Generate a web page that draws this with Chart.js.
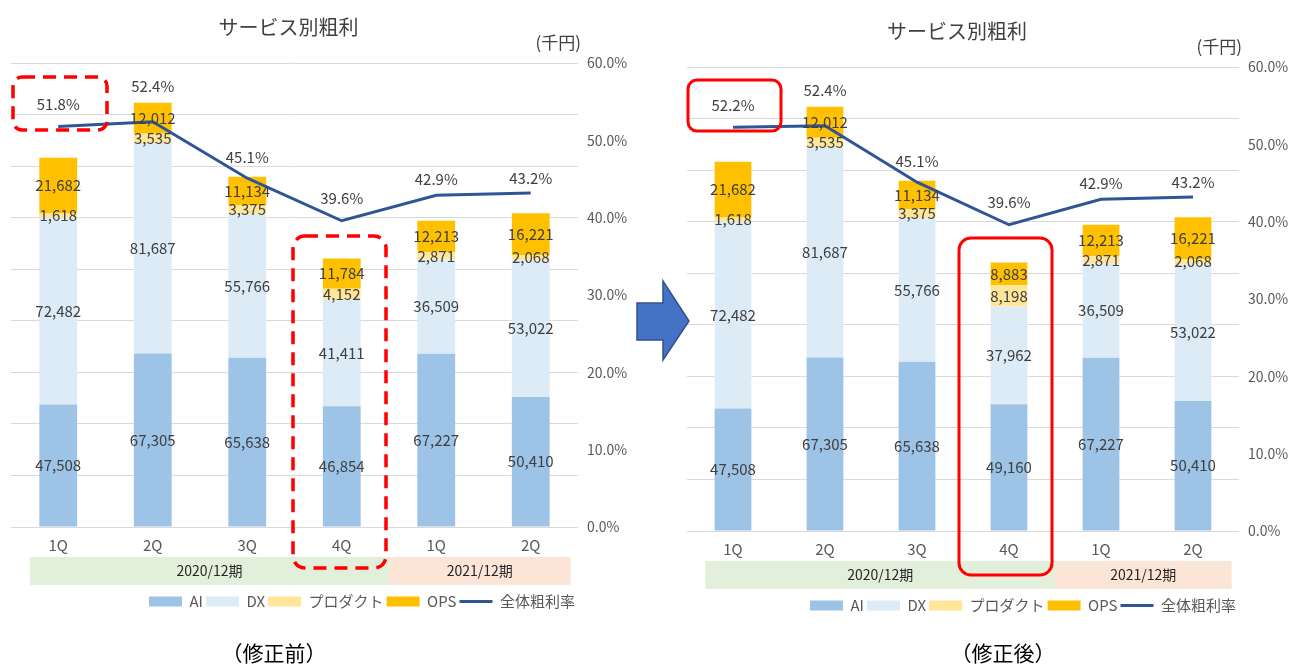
<!DOCTYPE html>
<html lang="ja">
<head>
<meta charset="UTF-8">
<title>サービス別粗利</title>
<style>
  body { margin: 0; background: #fff; width: 1291px; height: 664px; position: relative; overflow: hidden; font-family: "Noto Sans CJK JP", sans-serif; }
  .wrap { position: absolute; }
  #wrapBefore { left: 0; top: 0; }
  #wrapAfter { left: 650px; top: 3px; }
  .caption { position: absolute; top: 637px; font-size: 21px; line-height: 30px; color: #000; transform: translateX(-50%); white-space: nowrap; }
  #marks { position: absolute; left: 0; top: 0; pointer-events: none; }
</style>
</head>
<body>
<div class="wrap" id="wrapBefore"><canvas id="chartBefore" width="640" height="640"></canvas></div>
<div class="wrap" id="wrapAfter"><canvas id="chartAfter" width="641" height="640"></canvas></div>
<div class="caption" style="left:274px">（修正前）</div>
<div class="caption" style="left:1003px">（修正後）</div>

<svg id="marks" width="1291" height="664">
  <!-- 修正前の指摘枠 -->
  <rect x="13" y="77" width="94" height="53" rx="9" fill="none" stroke="#FF0000" stroke-width="3.5" stroke-dasharray="13 8"/>
  <rect x="293" y="236" width="93" height="332" rx="12" fill="none" stroke="#FF0000" stroke-width="3.5" stroke-dasharray="13 8"/>
  <!-- 修正後の枠 -->
  <rect x="688" y="80" width="93" height="51" rx="9" fill="none" stroke="#FF0000" stroke-width="3"/>
  <rect x="959" y="238" width="93" height="337" rx="12" fill="none" stroke="#FF0000" stroke-width="3"/>
  <polygon points="637,303 663,303 663,281 689,321 663,360 663,340 637,340" fill="#4472C4" stroke="#2F528F" stroke-width="1.5"/>
</svg>

<script src="https://cdn.jsdelivr.net/npm/chart.js@4/dist/chart.umd.min.js"></script>
<script>
const categories = ['1Q', '2Q', '3Q', '4Q', '1Q', '2Q'];
const periodNames = ['2020/12期', '2021/12期'];
const periodSizes = [4, 2];
const seriesNames = ['AI', 'DX', 'プロダクト', 'OPS', '全体粗利率'];

// 修正前
const aiBefore   = [47508, 67305, 65638, 46854, 67227, 50410];
const dxBefore   = [72482, 81687, 55766, 41411, 36509, 53022];
const prodBefore = [1618, 3535, 3375, 4152, 2871, 2068];
const opsBefore  = [21682, 12012, 11134, 11784, 12213, 16221];
const rateBefore = [51.8, 52.4, 45.1, 39.6, 42.9, 43.2];

// 修正後
const aiAfter   = [47508, 67305, 65638, 49160, 67227, 50410];
const dxAfter   = [72482, 81687, 55766, 37962, 36509, 53022];
const prodAfter = [1618, 3535, 3375, 8198, 2871, 2068];
const opsAfter  = [21682, 12012, 11134, 8883, 12213, 16221];
const rateAfter = [52.2, 52.4, 45.1, 39.6, 42.9, 43.2];

const rateTicks = [0, 10, 20, 30, 40, 50, 60];

const FONT = '"Noto Sans CJK JP", "Noto Sans", sans-serif';
const colors = ['#9DC3E6', '#DDEBF7', '#FFE699', '#FFC000'];
const lineColor = '#2F5597';
const rateLift = [22, 35, 21, 22, 16, 15];

// タイトル・単位・期の帯・データラベル
const sheetExtras = {
    id: 'sheetExtras',
    beforeDraw(chart) {
        const ctx = chart.ctx;
        const a = chart.chartArea;
        const cw = (a.right - a.left) / categories.length;
        ctx.save();
        ctx.fillStyle = '#404040';
        ctx.font = '20px ' + FONT;
        ctx.textAlign = 'center';
        ctx.textBaseline = 'middle';
        ctx.fillText('サービス別粗利', (a.left + a.right) / 2 - 6, a.top - 36);
        ctx.font = '17px ' + FONT;
        ctx.textAlign = 'right';
        ctx.fillText('(千円)', a.right + 3, a.top - 20);

        // 期の帯
        const y0 = a.bottom + 30, y1 = a.bottom + 58;
        const edges = [a.left + 0.2 * cw, a.left + periodSizes[0] * cw, a.right - 0.08 * cw];
        const fills = ['#E2EFDA', '#FBE5D6'];
        ctx.font = '14px ' + FONT;
        ctx.textAlign = 'center';
        for (let i = 0; i < periodNames.length; i++) {
            ctx.fillStyle = fills[i];
            ctx.fillRect(edges[i], y0, edges[i + 1] - edges[i], y1 - y0);
            ctx.fillStyle = '#262626';
            ctx.fillText(periodNames[i], (edges[i] + edges[i + 1]) / 2, (y0 + y1) / 2);
        }
        ctx.restore();
    },
    afterDatasetsDraw(chart) {
        const ctx = chart.ctx;
        ctx.save();
        ctx.font = '15px ' + FONT;
        ctx.fillStyle = '#404040';
        ctx.textAlign = 'center';
        ctx.textBaseline = 'middle';
        chart.data.datasets.forEach((ds, di) => {
            const meta = chart.getDatasetMeta(di);
            meta.data.forEach((el, i) => {
                const v = ds.data[i];
                if (ds.type === 'line') {
                    ctx.fillText(v.toFixed(1) + '%', el.x, el.y - rateLift[i]);
                } else {
                    ctx.fillText(v.toLocaleString('en-US'), el.x, (el.y + el.base) / 2);
                }
            });
        });
        ctx.restore();
    }
};

function makeChart(id, ai, dx, prod, ops, rate, pad) {
    const bars = [ai, dx, prod, ops].map((d, i) => ({
        type: 'bar',
        label: seriesNames[i],
        data: d,
        backgroundColor: colors[i],
        borderWidth: 0,
        pointStyle: 'rect',
        yAxisID: 'y',
        order: 1,
        categoryPercentage: 1,
        barPercentage: 0.4
    }));
    const line = {
        type: 'line',
        label: seriesNames[4],
        data: rate,
        borderColor: lineColor,
        backgroundColor: lineColor,
        borderWidth: 3,
        pointRadius: 0,
        pointStyle: 'line',
        tension: 0,
        yAxisID: 'y1',
        order: 0
    };
    return new Chart(document.getElementById(id), {
        type: 'bar',
        data: { labels: categories, datasets: bars.concat([line]) },
        plugins: [sheetExtras],
        options: {
            responsive: false,
            animation: false,
            layout: { padding: pad },
            plugins: {
                title: { display: false },
                tooltip: { enabled: false },
                legend: {
                    position: 'bottom',
                    align: 'end',
                    fullSize: false,
                    labels: {
                        usePointStyle: true,
                        pointStyleWidth: 33,
                        boxHeight: 10,
                        padding: 3,
                        color: '#595959',
                        font: { family: FONT, size: 15 },
                        sort: (a, b) => a.datasetIndex - b.datasetIndex
                    }
                }
            },
            scales: {
                x: {
                    stacked: true,
                    grid: { display: false, drawTicks: false },
                    border: { display: false },
                    ticks: { color: '#595959', padding: 9, font: { family: FONT, size: 15 } },
                    afterFit: s => { s.height = 64; }
                },
                y: {
                    stacked: true,
                    min: 0,
                    max: 180000,
                    ticks: { display: false, stepSize: 20000 },
                    grid: { color: '#D9D9D9', drawTicks: false },
                    border: { display: false }
                },
                y1: {
                    position: 'right',
                    min: rateTicks[0],
                    max: rateTicks[rateTicks.length - 1],
                    ticks: {
                        stepSize: rateTicks[1] - rateTicks[0],
                        padding: 9,
                        color: '#595959',
                        font: { family: FONT, size: 14 },
                        callback: v => v.toFixed(1) + '%'
                    },
                    grid: { drawOnChartArea: false, drawTicks: false },
                    border: { display: false },
                    afterFit: s => { s.width = 52; }
                }
            }
        }
    });
}

makeChart('chartBefore', aiBefore, dxBefore, prodBefore, opsBefore, rateBefore,
    { top: 63, left: 11, right: 10, bottom: 21 });
makeChart('chartAfter', aiAfter, dxAfter, prodAfter, opsAfter, rateAfter,
    { top: 64, left: 37, right: 0, bottom: 20 });
</script>
</body>
</html>
